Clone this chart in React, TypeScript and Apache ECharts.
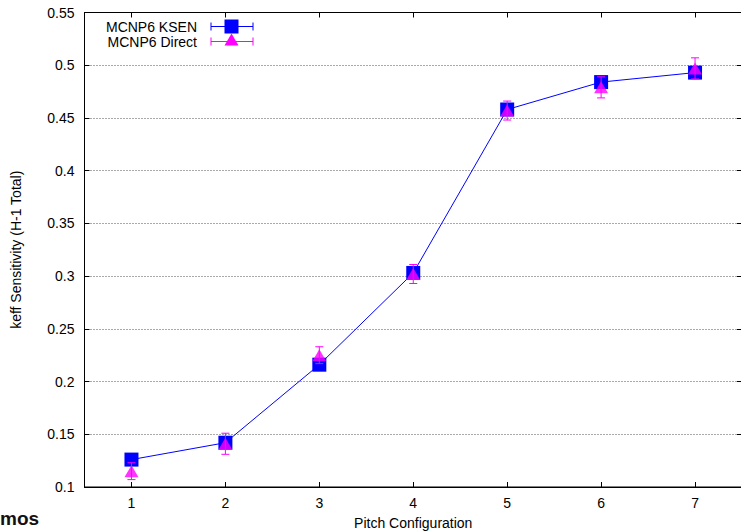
import { useEffect, useRef } from "react";
import * as echarts from "echarts";

// Pitch configurations along the x axis
const pitchConfigs = ["1", "2", "3", "4", "5", "6", "7"];

// MCNP6 KSEN sensitivities and their (small) uncertainties
const ksenValues = [0.126, 0.142, 0.216, 0.303, 0.458, 0.484, 0.493];
const ksenErrors = [0.002, 0.002, 0.002, 0.002, 0.002, 0.002, 0.002];

// MCNP6 direct-perturbation sensitivities and their uncertainties
const directValues = [0.115, 0.141, 0.225, 0.302, 0.457, 0.479, 0.497];
const directErrors = [0.008, 0.01, 0.008, 0.009, 0.009, 0.01, 0.01];

// y-axis range and step
const yMin = 0.1;
const yMax = 0.55;
const yStep = 0.05;

const FONT = "'Liberation Sans', Arial, Helvetica, sans-serif";
const BLUE = "#0000ff";
const MAGENTA = "#ff00ff";

function errorBarSeries(values: number[], errors: number[], color: string, z: number) {
  return {
    type: "custom",
    z,
    silent: true,
    encode: { x: 0, y: [1, 2] },
    data: values.map((v, i) => [i, v - errors[i], v + errors[i]]),
    renderItem: (_params: any, api: any) => {
      const idx = api.value(0);
      const lo = api.coord([idx, api.value(1)]);
      const hi = api.coord([idx, api.value(2)]);
      const cap = 4;
      const style = { stroke: color, lineWidth: 1 };
      return {
        type: "group",
        children: [
          { type: "line", shape: { x1: hi[0], y1: hi[1], x2: lo[0], y2: lo[1] }, style },
          { type: "line", shape: { x1: hi[0] - cap, y1: hi[1], x2: hi[0] + cap, y2: hi[1] }, style },
          { type: "line", shape: { x1: lo[0] - cap, y1: lo[1], x2: lo[0] + cap, y2: lo[1] }, style },
        ],
      };
    },
  };
}

function legendEntry(label: string, y: number, color: string, marker: any) {
  const x1 = 211;
  const x2 = 253;
  const cap = 4;
  const style = { stroke: color, lineWidth: 1 };
  return [
    {
      type: "text",
      x: 197,
      y,
      style: {
        text: label,
        font: `14px ${FONT}`,
        fill: "#000",
        align: "right",
        verticalAlign: "middle",
      },
    },
    { type: "line", shape: { x1, y1: y, x2, y2: y }, style },
    { type: "line", shape: { x1, y1: y - cap, x2: x1, y2: y + cap }, style },
    { type: "line", shape: { x1: x2, y1: y - cap, x2, y2: y + cap }, style },
    marker,
  ];
}

export default function App() {
  const ref = useRef<HTMLDivElement>(null);

  useEffect(() => {
    if (!ref.current) return;
    const chart = echarts.init(ref.current, undefined, { renderer: "svg" });

    const labelFmt = (v: number) => String(Math.round(v * 100) / 100);

    chart.setOption({
      animation: false,
      backgroundColor: "#fff",
      grid: {
        left: 84.5,
        top: 12.5,
        width: 657.5,
        height: 474.5,
        outerBoundsMode: "none",
        containLabel: false,
        show: true,
        borderColor: "#000",
        borderWidth: 1,
        backgroundColor: "transparent",
      },
      xAxis: [
        {
          type: "category",
          data: pitchConfigs,
          boundaryGap: true,
          position: "bottom",
          name: "Pitch Configuration",
          nameLocation: "middle",
          nameGap: 29,
          nameTextStyle: { fontFamily: FONT, fontSize: 14, color: "#000" },
          axisLine: { show: true, lineStyle: { color: "#000", width: 1 } },
          axisTick: { show: true, inside: true, alignWithLabel: true, length: 5, lineStyle: { color: "#000" } },
          axisLabel: { fontFamily: FONT, fontSize: 14, color: "#000", margin: 9 },
          splitLine: { show: false },
        },
        {
          type: "category",
          data: pitchConfigs,
          boundaryGap: true,
          position: "top",
          axisLine: { show: true, lineStyle: { color: "#000", width: 1 } },
          axisTick: { show: true, inside: true, alignWithLabel: true, length: 5, lineStyle: { color: "#000" } },
          axisLabel: { show: false },
          splitLine: { show: false },
        },
      ],
      yAxis: [
        {
          type: "value",
          min: yMin,
          max: yMax,
          interval: yStep,
          position: "left",
          name: "keff Sensitivity (H-1 Total)",
          nameLocation: "middle",
          nameGap: 62,
          nameTextStyle: { fontFamily: FONT, fontSize: 14, color: "#000" },
          axisLine: { show: true, lineStyle: { color: "#000", width: 1 } },
          axisTick: { show: true, inside: true, length: 5, lineStyle: { color: "#000" } },
          axisLabel: { fontFamily: FONT, fontSize: 14, color: "#000", margin: 10, formatter: labelFmt },
          splitLine: { show: true, lineStyle: { color: "#555", width: 1, type: [1, 2] } },
        },
        {
          type: "value",
          min: yMin,
          max: yMax,
          interval: yStep,
          position: "right",
          axisLine: { show: true, lineStyle: { color: "#000", width: 1 } },
          axisTick: { show: true, inside: true, length: 5, lineStyle: { color: "#000" } },
          axisLabel: { show: false },
          splitLine: { show: false },
        },
      ],
      series: [
        {
          name: "MCNP6 KSEN",
          type: "line",
          data: ksenValues,
          z: 2,
          symbol: "rect",
          symbolSize: 14,
          showSymbol: true,
          lineStyle: { color: BLUE, width: 1 },
          itemStyle: { color: BLUE },
        },
        errorBarSeries(ksenValues, ksenErrors, BLUE, 3),
        {
          name: "MCNP6 Direct",
          type: "scatter",
          data: directValues,
          z: 4,
          symbol: "triangle",
          symbolSize: [14, 12],
          itemStyle: { color: MAGENTA },
        },
        errorBarSeries(directValues, directErrors, MAGENTA, 5),
      ],
      graphic: [
        ...legendEntry("MCNP6 KSEN", 26.5, BLUE, {
          type: "rect",
          shape: { x: 224.5, y: 19.5, width: 14, height: 14 },
          style: { fill: BLUE },
        }),
        ...legendEntry("MCNP6 Direct", 41.5, MAGENTA, {
          type: "polygon",
          shape: {
            points: [
              [224.5, 45.5],
              [238.5, 45.5],
              [231.5, 33.5],
            ],
          },
          style: { fill: MAGENTA },
        }),
        {
          type: "text",
          x: 0,
          y: 518,
          style: {
            text: "mos",
            font: `bold 19px 'Liberation Sans Narrow', ${FONT}`,
            fill: "#111",
            align: "left",
            verticalAlign: "middle",
          },
        },
      ],
    });

    return () => chart.dispose();
  }, []);

  return (
    <div
      style={{
        position: "fixed",
        left: 0,
        top: 0,
        width: 741,
        height: 532,
        overflow: "hidden",
        background: "#fff",
      }}
    >
      <div ref={ref} style={{ width: 760, height: 532 }} />
    </div>
  );
}
